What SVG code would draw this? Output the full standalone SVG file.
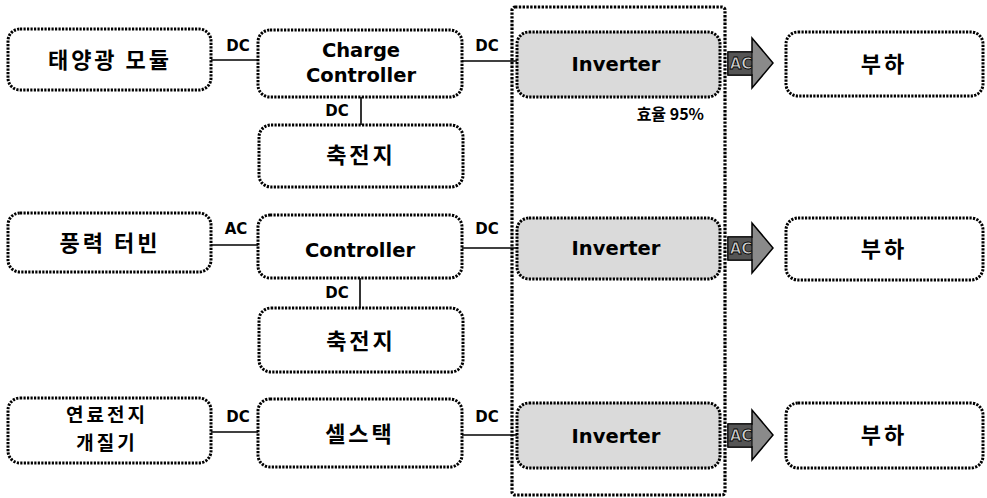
<svg xmlns="http://www.w3.org/2000/svg" width="987" height="498" viewBox="0 0 987 498">
<style>
.box{fill:#fff;stroke:#000;stroke-width:3;stroke-dasharray:2.2 1.3}
.inv{fill:#dadada;stroke:#000;stroke-width:3;stroke-dasharray:2.2 1.3}
.frame{fill:none;stroke:#000;stroke-width:3.2;stroke-dasharray:2.4 1.4}
.ko{font-family:"Noto Sans CJK KR","Noto Sans",sans-serif;font-weight:bold;font-size:22px;letter-spacing:3px;text-anchor:middle;fill:#000}
.ko2{font-family:"Noto Sans CJK KR","Noto Sans",sans-serif;font-weight:bold;font-size:19px;letter-spacing:3px;text-anchor:middle;fill:#000}
.en{font-family:"DejaVu Sans","Liberation Sans",sans-serif;font-weight:bold;font-size:19.5px;text-anchor:middle;fill:#000}
.lbl{font-family:"DejaVu Sans","Liberation Sans",sans-serif;font-weight:bold;font-size:15px;text-anchor:middle;fill:#000}
.eff{font-family:"Noto Sans CJK KR","DejaVu Sans",sans-serif;font-weight:bold;font-size:16px;text-anchor:end;fill:#000}
.ac{font-family:"DejaVu Sans","Liberation Sans",sans-serif;font-weight:bold;font-size:15px;text-anchor:middle;fill:#cfcfcf;stroke:#000;stroke-width:0.8}
.wire{stroke:#000;stroke-width:1.6;fill:none}
.arrHead{fill:#8a8a8a;stroke:#000;stroke-width:1.5}
.arrBody{fill:#555;stroke:#000;stroke-width:1}
</style>
<defs>
<g id="arrowShape">
<path class="arrHead" d="M728,-11 H752 V-25 L773,0 L752,25 V12 H728 Z"/>
<rect class="arrBody" x="728" y="-11" width="24" height="23"/>
</g>
</defs>

<g id="inverter-frame">
<rect class="frame" x="512" y="7" width="213" height="488" rx="3"/>
</g>

<g id="connectors">
<line class="wire" x1="211" y1="60" x2="258" y2="60"/>
<text class="lbl" x="238" y="51">DC</text>
<line class="wire" x1="361" y1="97" x2="361" y2="125"/>
<text class="lbl" x="337" y="116">DC</text>
<line class="wire" x1="462" y1="61" x2="517" y2="61"/>
<text class="lbl" x="487" y="51">DC</text>

<line class="wire" x1="211" y1="245" x2="258" y2="245"/>
<text class="lbl" x="236" y="234">AC</text>
<line class="wire" x1="360" y1="278" x2="360" y2="308"/>
<text class="lbl" x="337" y="298">DC</text>
<line class="wire" x1="462" y1="248" x2="517" y2="248"/>
<text class="lbl" x="487" y="234">DC</text>

<line class="wire" x1="211" y1="432" x2="258" y2="432"/>
<text class="lbl" x="238" y="422">DC</text>
<line class="wire" x1="462" y1="435" x2="517" y2="435"/>
<text class="lbl" x="487" y="422">DC</text>

<use href="#arrowShape" transform="translate(0,63)"/>
<text class="ac" x="741" y="69">AC</text>
<use href="#arrowShape" transform="translate(0,248)"/>
<text class="ac" x="741" y="254">AC</text>
<use href="#arrowShape" transform="translate(0,435)"/>
<text class="ac" x="741" y="441">AC</text>
</g>

<g id="solar">
<rect class="box" x="8" y="29" width="203" height="61" rx="12"/>
<text class="ko" x="110" y="68">태양광 모듈</text>
</g>
<g id="charge-controller">
<rect class="box" x="258" y="30" width="204" height="67" rx="12"/>
<text class="en" x="361" y="57">Charge</text>
<text class="en" x="361" y="82">Controller</text>
</g>
<g id="battery1">
<rect class="box" x="259" y="125" width="204" height="62" rx="12"/>
<text class="ko" x="361" y="163">축전지</text>
</g>
<g id="inverter1">
<rect class="inv" x="517" y="32" width="203" height="65" rx="12"/>
<text class="en" x="616" y="71">Inverter</text>
<text class="eff" x="704" y="120">효율 95%</text>
</g>
<g id="load1">
<rect class="box" x="786" y="32" width="197" height="64" rx="12"/>
<text class="ko" x="884" y="72">부하</text>
</g>

<g id="wind">
<rect class="box" x="8" y="213" width="203" height="59" rx="12"/>
<text class="ko" x="110" y="251">풍력 터빈</text>
</g>
<g id="controller">
<rect class="box" x="258" y="215" width="204" height="63" rx="12"/>
<text class="en" x="360" y="257">Controller</text>
</g>
<g id="battery2">
<rect class="box" x="259" y="308" width="204" height="64" rx="12"/>
<text class="ko" x="361" y="349">축전지</text>
</g>
<g id="inverter2">
<rect class="inv" x="517" y="218" width="203" height="61" rx="12"/>
<text class="en" x="616" y="255">Inverter</text>
</g>
<g id="load2">
<rect class="box" x="786" y="218" width="197" height="62" rx="12"/>
<text class="ko" x="884" y="257">부하</text>
</g>

<g id="fuelcell">
<rect class="box" x="8" y="398" width="203" height="65" rx="12"/>
<text class="ko2" x="107" y="422">연료전지</text>
<text class="ko2" x="107" y="450">개질기</text>
</g>
<g id="cellstack">
<rect class="box" x="258" y="399" width="204" height="68" rx="12"/>
<text class="ko" x="360" y="442">셀스택</text>
</g>
<g id="inverter3">
<rect class="inv" x="517" y="403" width="203" height="65" rx="12"/>
<text class="en" x="616" y="443">Inverter</text>
</g>
<g id="load3">
<rect class="box" x="786" y="403" width="197" height="65" rx="12"/>
<text class="ko" x="884" y="443">부하</text>
</g>
</svg>
